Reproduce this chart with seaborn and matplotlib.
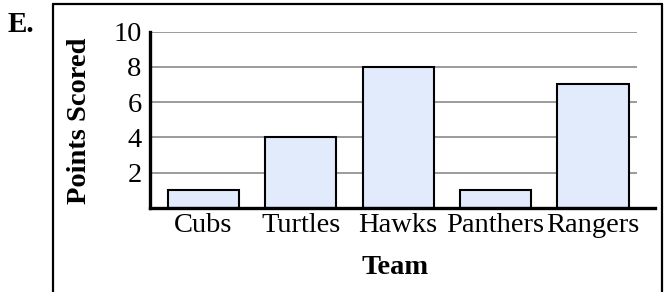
import matplotlib
matplotlib.use("Agg")
import matplotlib.pyplot as plt
from matplotlib.lines import Line2D
import pandas as pd
import seaborn as sns

# ─── Data ────────────────────────────────────────────────────────────────────

teams = ["Cubs", "Turtles", "Hawks", "Panthers", "Rangers"]
points = [1, 4, 8, 1, 7]
y_ticks = [2, 4, 6, 8, 10]

# ─── Plot ────────────────────────────────────────────────────────────────────

sns.set_style("white")
plt.rcParams["font.family"] = ["Liberation Serif", "DejaVu Serif"]
plt.rcParams.update({"text.color": "black", "xtick.color": "black",
                     "ytick.color": "black", "axes.labelcolor": "black"})

df = pd.DataFrame({"Team": teams, "Points": points})

W, H = 665, 292
FS = 20.5
fig = plt.figure(figsize=(W / 100, H / 100), dpi=100)
ax = fig.add_axes([150 / W, 1 - 207.7 / H, (655 - 150) / W, (207.7 - 31.7) / H])

# gridlines (stop short of the right end of the x axis)
ax.hlines(y_ticks, -0.547, 4.45, color="#8a8a8a", linewidth=1.2, zorder=0)

sns.barplot(data=df, x="Team", y="Points", color="#e2ebfc", saturation=1,
            edgecolor="black", linewidth=1.5, width=0.73, ax=ax, zorder=2)

ax.set_xlim(-0.547, 4.636)
ax.set_ylim(0, 10)
ax.set_yticks(y_ticks)
ax.tick_params(axis="both", length=0, labelsize=FS, colors="black")
ax.tick_params(axis="y", pad=6)
ax.tick_params(axis="x", pad=4)
ax.set_xlabel("")
ax.set_ylabel("")
for s in ["top", "right"]:
    ax.spines[s].set_visible(False)
for s in ["left", "bottom"]:
    ax.spines[s].set_linewidth(2.4)
    ax.spines[s].set_color("black")

fig.text(79 / W, 1 - 120.5 / H, "Points Scored", rotation=90, ha="center",
         va="center", fontsize=FS, fontweight="bold", color="black")
fig.text(395 / W, 1 - 268 / H, "Team", ha="center", va="center",
         fontsize=FS, fontweight="bold", color="black")
fig.text(8 / W, 1 - 32 / H, "E.", ha="left", va="baseline",
         fontsize=21, fontweight="bold", color="black")

# outer frame (open at the bottom)
x0, x1, yt = 52.7 / W, 662 / W, 1 - 4 / H
for xs, ys in [([x0, x0], [0, yt]), ([x0, x1], [yt, yt]), ([x1, x1], [yt, 0])]:
    fig.add_artist(Line2D(xs, ys, color="black", linewidth=1.6))

fig.savefig("out.png", dpi=100)
plt.close(fig)
